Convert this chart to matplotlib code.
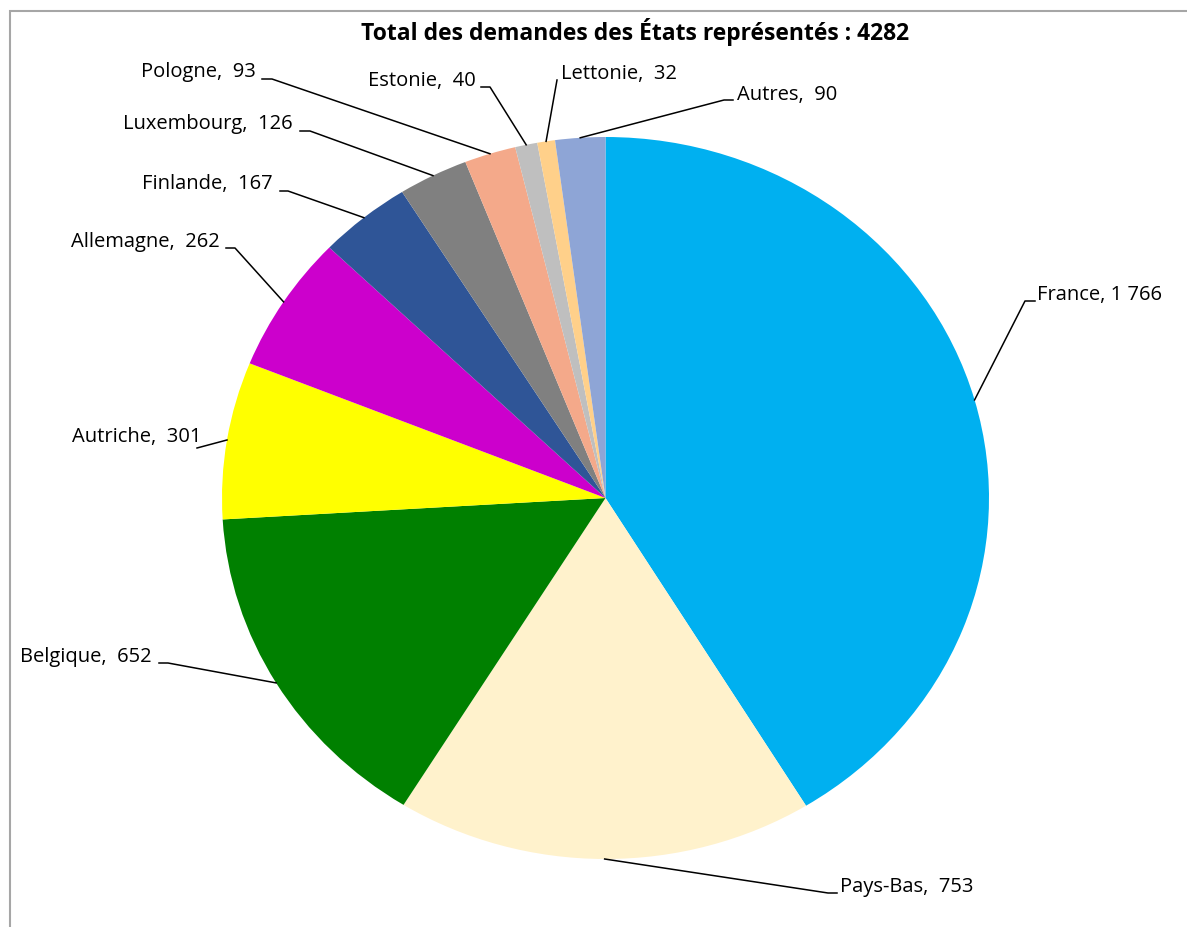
import matplotlib
matplotlib.use("Agg")
import matplotlib.pyplot as plt
import numpy as np

# ---- data ----
countries = ["France", "Pays-Bas", "Belgique", "Autriche", "Allemagne", "Finlande",
             "Luxembourg", "Pologne", "Estonie", "Lettonie", "Autres"]
values = [1766, 753, 652, 301, 262, 167, 126, 93, 40, 32, 90]
value_labels = ["1 766", " 753", " 652", " 301", " 262", " 167", " 126", " 93", " 40", " 32", " 90"]
title = "Total des demandes des États représentés : 4282"

colors = ["#00B0F0", "#FFF2CC", "#008000", "#FFFF00", "#CC00CC", "#2F5597",
          "#808080", "#F4A98A", "#BFBFBF", "#FFD08A", "#8EA5D6"]

# ---- layout (figure pixels) ----
W, H = 1187, 928
cx, cy, rx, ry = 605.5, 499.0, 383.5, 361.0
# text anchor (x, y, ha) and elbow line (x_text_side, x_elbow, y_line)
label_layout = [
    (1037, 295, "left", 1035, 1025, 302),   # France
    (840, 887, "left", 837, 828, 894),      # Pays-Bas
    (152, 657, "right", 159, 168, 664),     # Belgique
    (201, 437, "right", 197, 197, 449),     # Autriche
    (220, 242, "right", 226, 235, 249),     # Allemagne
    (273, 184, "right", 280, 288, 192),     # Finlande
    (293, 124, "right", 300, 310, 132),     # Luxembourg
    (256, 72, "right", 262, 272, 80),       # Pologne
    (476, 81, "right", 481, 490, 88),       # Estonie
    (561, 74, "left", 557, 557, 81),        # Lettonie
    (737, 95, "left", 733, 724, 101),       # Autres
]

FONT = ["Open Sans", "DejaVu Sans"]
plt.rcParams["font.family"] = FONT

fig = plt.figure(figsize=(W / 100, H / 100), dpi=100)
fig.patch.set_facecolor("white")

# pie axes fitted to the elliptical pie bounding box
pax = fig.add_axes([(cx - rx) / W, 1 - (cy + ry) / H, 2 * rx / W, 2 * ry / H])
wedges, _ = pax.pie(values, colors=colors, startangle=90, counterclock=False,
                    radius=1, wedgeprops=dict(linewidth=0))
pax.set_aspect("auto")
pax.set_xlim(-1, 1)
pax.set_ylim(-1, 1)
pax.axis("off")

# overlay axes in pixel coordinates
ax = fig.add_axes([0, 0, 1, 1], zorder=5)
ax.set_xlim(0, W)
ax.set_ylim(H, 0)
ax.axis("off")
ax.patch.set_alpha(0)

# frame
ax.plot([10, 10, W + 5], [H + 5, 12, 12], color="#A6A6A6", lw=1.5, solid_joinstyle="miter")

ax.text(635, 32, title, ha="center", va="center", fontsize=16.5, fontweight="bold",
        color="black")

total = sum(values)
cum = 0.0
for name, v, vl, lay in zip(countries, values, value_labels, label_layout):
    mid = (cum + v / 2) / total
    cum += v
    theta = np.deg2rad(90 - mid * 360)
    ex = cx + rx * np.cos(theta)
    ey = cy - ry * np.sin(theta)
    tx, ty, ha, x1, x2, yl = lay
    ax.plot([x1, x2, ex], [yl, yl, ey], color="black", lw=1.1)
    ax.text(tx, ty, f"{name}, {vl}", ha=ha, va="center", fontsize=14.5, color="black")

fig.savefig("out.png", dpi=100, facecolor="white")
